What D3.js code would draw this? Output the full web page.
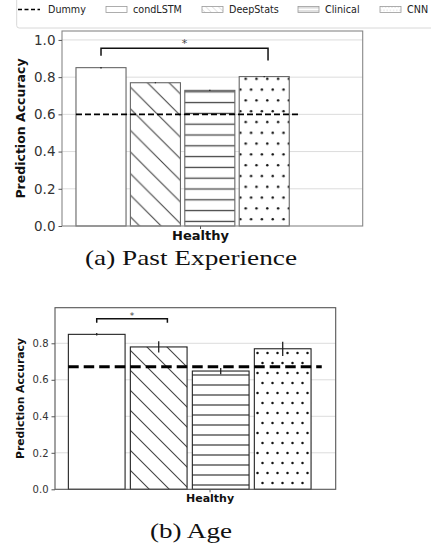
<!DOCTYPE html>
<html>
<head>
<meta charset="utf-8">
<script src="https://cdnjs.cloudflare.com/ajax/libs/d3/7.8.5/d3.min.js"></script>
<style>
  body { margin: 0; background: #fff; }
  svg { display: block; }
</style>
</head>
<body>
<script>
// data
var models = ["condLSTM", "DeepStats", "Clinical", "CNN"];
var hatchKinds = ["none", "diag", "horiz", "dots"];
var groupLabel = "Healthy";
var groupTick = 1.82;   // tick position in bar-index units

var pastAcc = [0.851, 0.770, 0.729, 0.803];
var pastErr = [0.004, 0.003, 0.003, 0.003];
var pastDummy = 0.60;
var pastTicks = [0, 0.2, 0.4, 0.6, 0.8, 1.0];

var ageAcc = [0.849, 0.780, 0.648, 0.770];
var ageErr = [0.007, 0.031, 0.017, 0.039];
var ageDummy = 0.672;
var ageTicks = [0, 0.2, 0.4, 0.6, 0.8];

// significance brackets: [from bar, to bar, top, left leg, right leg, star]
var pastBracket = [0, 3.07, 0.955, 0.915, 0.889, 0.995];
var ageBracket = [0, 1.14, 0.935, 0.913, 0.913, 0.962];

var captions = ["(a) Past Experience", "(b) Age"];
var legendLabels = ["Dummy", "condLSTM", "DeepStats", "Clinical", "CNN"];

var svg = d3.select("body").append("svg")
    .attr("width", 431)
    .attr("height", 547);

var defs = svg.append("defs");

// hatch patterns
function makePatterns(id, s, col, w, r, dotCol) {
    var p = defs.append("pattern").attr("id", "diag" + id)
        .attr("patternUnits", "userSpaceOnUse")
        .attr("width", s * 2).attr("height", s * 2);
    p.append("rect").attr("width", s * 2).attr("height", s * 2).attr("fill", "#fff");
    p.append("path")
        .attr("d", "M0,0L" + 2 * s + "," + 2 * s + "M" + (-s) + "," + s + "L" + s + "," + 3 * s + "M" + s + "," + (-s) + "L" + 3 * s + "," + s)
        .attr("stroke", col).attr("stroke-width", w);

    p = defs.append("pattern").attr("id", "horiz" + id)
        .attr("patternUnits", "userSpaceOnUse")
        .attr("width", s).attr("height", s);
    p.append("rect").attr("width", s).attr("height", s).attr("fill", "#fff");
    p.append("line").attr("x1", 0).attr("x2", s).attr("y1", s / 2).attr("y2", s / 2)
        .attr("stroke", col).attr("stroke-width", w + 0.2);

    p = defs.append("pattern").attr("id", "dots" + id)
        .attr("patternUnits", "userSpaceOnUse")
        .attr("width", s).attr("height", s * 2);
    p.append("rect").attr("width", s).attr("height", s * 2).attr("fill", "#fff");
    p.append("circle").attr("cx", s * 0.25).attr("cy", s * 0.3).attr("r", r).attr("fill", dotCol);
    p.append("circle").attr("cx", s * 0.75).attr("cy", s * 1.3).attr("r", r).attr("fill", dotCol);
}
makePatterns("A", 10.8, "#444", 1.1, 1.25, "#111");
makePatterns("B", 10.0, "#444", 1.1, 1.25, "#111");
makePatterns("L", 3.2, "#b0b0b0", 0.5, 0.45, "#999");

function fillFor(kind, id) {
    return kind == "none" ? "#fff" : "url(#" + kind + id + ")";
}

function drawPanel(o) {
    var x = d3.scaleLinear().domain(o.xDomain).range([o.left, o.right]);
    var y = d3.scaleLinear().domain(o.yDomain).range([o.bottom, o.top]);
    var g = svg.append("g");

    // grid
    g.selectAll(".grid").data(o.ticks.filter(function(d) { return d > 0; }))
        .enter().append("line")
        .attr("x1", o.left).attr("x2", o.right)
        .attr("y1", function(d) { return y(d); })
        .attr("y2", function(d) { return y(d); })
        .attr("stroke", "#dcdcdc").attr("stroke-width", 1);

    var bw = (x(1) - x(0)) * o.barFrac;
    g.selectAll(".bar").data(o.acc).enter().append("rect")
        .attr("x", function(d, i) { return x(i) - bw / 2; })
        .attr("width", bw)
        .attr("y", function(d) { return y(d); })
        .attr("height", function(d) { return y(0) - y(d); })
        .attr("fill", function(d, i) { return fillFor(hatchKinds[i], o.pid); })
        .attr("stroke", o.edge).attr("stroke-width", 1.1);

    // error bars
    g.selectAll(".err").data(o.acc).enter().append("line")
        .attr("x1", function(d, i) { return x(i); })
        .attr("x2", function(d, i) { return x(i); })
        .attr("y1", function(d, i) { return y(d - o.err[i]); })
        .attr("y2", function(d, i) { return y(d + o.err[i]); })
        .attr("stroke", "#222").attr("stroke-width", 1.3);

    // dummy baseline
    g.append("line")
        .attr("x1", x(-0.46)).attr("x2", x(3.63))
        .attr("y1", y(o.dummy)).attr("y2", y(o.dummy))
        .attr("stroke", "#000").attr("stroke-width", o.dummyW)
        .attr("stroke-dasharray", o.dash);

    // significance bracket
    var b = o.bracket;
    g.append("path")
        .attr("d", "M" + x(b[0]) + "," + y(b[3]) + "V" + y(b[2]) + "H" + x(b[1]) + "V" + y(b[4]))
        .attr("fill", "none").attr("stroke", "#111").attr("stroke-width", 1.5);
    g.append("text")
        .attr("x", (x(b[0]) + x(b[1])) / 2).attr("y", y(b[5]))
        .attr("dy", "0.55em")
        .attr("text-anchor", "middle")
        .style("font-family", "DejaVu Sans").style("font-size", o.starSize + "px")
        .attr("fill", "#444")
        .text("*");

    // frame
    g.append("rect")
        .attr("x", o.left).attr("y", o.top)
        .attr("width", o.right - o.left).attr("height", o.bottom - o.top)
        .attr("fill", "none").attr("stroke", o.frame).attr("stroke-width", 1.1);

    // y axis
    var ya = g.append("g")
        .attr("transform", "translate(" + o.left + ",0)")
        .call(d3.axisLeft(y).tickValues(o.ticks).tickFormat(d3.format(".1f")).tickSize(3.5).tickPadding(3));
    ya.select(".domain").remove();
    ya.selectAll("line").attr("stroke", "#555");
    ya.selectAll("text").attr("fill", "#333")
        .style("font-family", "DejaVu Sans").style("font-size", o.tickSize + "px");

    // x axis
    var xa = g.append("g")
        .attr("transform", "translate(0," + o.bottom + ")")
        .call(d3.axisBottom(x).tickValues([groupTick]).tickFormat(function() { return groupLabel; }).tickSize(3).tickPadding(2));
    xa.select(".domain").remove();
    xa.selectAll("line").attr("stroke", "#555");
    xa.selectAll("text").attr("fill", "#111")
        .style("font-family", "DejaVu Sans").style("font-weight", "bold")
        .style("font-size", o.labelSize + "px");

    // y label
    g.append("text")
        .attr("transform", "translate(" + o.yLabelX + "," + ((o.top + o.bottom) / 2) + ") rotate(-90)")
        .attr("text-anchor", "middle").attr("dy", "0.35em")
        .style("font-family", "DejaVu Sans").style("font-weight", "bold")
        .style("font-size", o.yLabelSize + "px")
        .attr("fill", "#111")
        .text("Prediction Accuracy");

    // caption
    g.append("text")
        .attr("x", 191).attr("y", o.capY)
        .attr("text-anchor", "middle")
        .attr("textLength", o.capLen).attr("lengthAdjust", "spacingAndGlyphs")
        .style("font-family", "Liberation Serif").style("font-size", "22px")
        .attr("fill", "#111")
        .text(o.caption);
}

drawPanel({
    pid: "A", acc: pastAcc, err: pastErr, dummy: pastDummy, ticks: pastTicks,
    bracket: pastBracket, caption: captions[0],
    left: 62, right: 362.7, top: 31, bottom: 226,
    xDomain: [-0.717, 4.81], yDomain: [0, 1.048], barFrac: 0.92,
    edge: "#666", frame: "#888", dummyW: 1.6, dash: "6,3",
    tickSize: 13.5, labelSize: 13, yLabelSize: 12.5, yLabelX: 21, starSize: 11,
    capY: 265, capLen: 212
});

drawPanel({
    pid: "B", acc: ageAcc, err: ageErr, dummy: ageDummy, ticks: ageTicks,
    bracket: ageBracket, caption: captions[1],
    left: 55, right: 335.7, top: 307.7, bottom: 489.3,
    xDomain: [-0.673, 3.855], yDomain: [0, 0.995], barFrac: 0.915,
    edge: "#222", frame: "#555", dummyW: 3, dash: "10.5,5",
    tickSize: 10, labelSize: 11, yLabelSize: 10.8, yLabelX: 20, starSize: 9,
    capY: 538, capLen: 82
});

// legend (cropped at the top in the original)
var leg = svg.append("g");
leg.append("rect")
    .attr("x", 16.7).attr("y", -6).attr("width", 430).attr("height", 34)
    .attr("rx", 2.5)
    .attr("fill", "#fff").attr("stroke", "#d8d8d8").attr("stroke-width", 1);

var legX = [18, 106, 202, 298, 380];
var legItems = leg.selectAll(".li").data(legendLabels).enter().append("g")
    .attr("transform", function(d, i) { return "translate(" + legX[i] + ",9.4)"; });

legItems.each(function(d, i) {
    var it = d3.select(this);
    if (i == 0) {
        it.append("line").attr("x1", 0).attr("x2", 22).attr("y1", 0).attr("y2", 0)
            .attr("stroke", "#000").attr("stroke-width", 1.5).attr("stroke-dasharray", "4,2.5");
    } else {
        it.append("rect").attr("x", 0).attr("y", -3).attr("width", 21).attr("height", 6)
            .attr("fill", fillFor(hatchKinds[i - 1], "L"))
            .attr("stroke", "#999").attr("stroke-width", 0.8);
    }
    it.append("text")
        .attr("x", i == 0 ? 30 : 27).attr("dy", "0.35em")
        .style("font-family", "DejaVu Sans").style("font-size", "9.6px")
        .attr("fill", "#222")
        .text(d);
});
</script>
</body>
</html>
